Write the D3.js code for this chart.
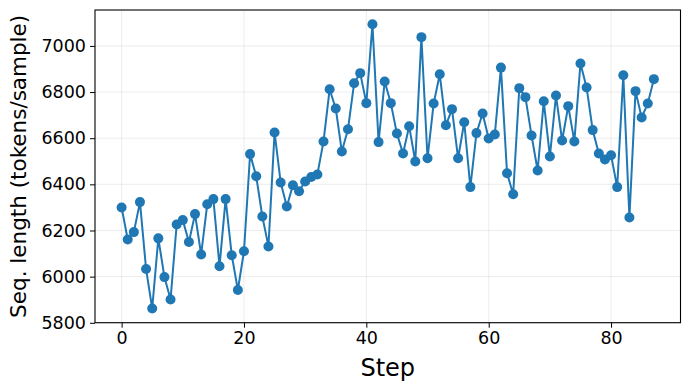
<!DOCTYPE html>
<html>
<head>
<meta charset="utf-8">
<script src="https://cdn.jsdelivr.net/npm/d3@7"></script>
<style>
  html, body { margin: 0; padding: 0; background: #fff; }
  svg { display: block; font-family: "DejaVu Sans", sans-serif; }
</style>
</head>
<body>
<svg id="chart" width="690" height="390"></svg>
<script>
// Sequence length per step (tokens/sample)
var seqLength = [
  6300, 6161, 6193, 6323, 6033, 5862, 6166, 5998, 5901, 6226,
  6245, 6150, 6271, 6096, 6314, 6336, 6045, 6336, 6093, 5942,
  6110, 6531, 6435, 6261, 6131, 6625, 6408, 6304, 6396, 6370,
  6412, 6432, 6443, 6586, 6812, 6729, 6542, 6639, 6838, 6882,
  6752, 7094, 6583, 6846, 6752, 6620, 6534, 6652, 6499, 7038,
  6513, 6750, 6877, 6656, 6726, 6513, 6669, 6388, 6622, 6707,
  6599, 6616, 6906, 6448, 6357, 6817, 6778, 6612, 6460, 6760,
  6521, 6785, 6590, 6739, 6586, 6924, 6820, 6635, 6534, 6508,
  6526, 6388, 6873, 6256, 6804, 6690, 6750, 6856
];
var steps = seqLength.map(function (d, i) { return i; });
var xTicks = [0, 20, 40, 60, 80];
var yTicks = [5800, 6000, 6200, 6400, 6600, 6800, 7000];

(function () {
  "use strict";

  var W = 690, H = 390;
  var m = { left: 95, right: 9.5, top: 10, bottom: 67.3 };
  var color = "#1f77b4";

  var svg = d3.select("#chart");
  var pts = steps.map(function (s, i) { return { x: s, y: seqLength[i] }; });

  // matplotlib-style 5% padding around the data
  var xExt = d3.extent(steps), yExt = d3.extent(seqLength);
  var xPad = (xExt[1] - xExt[0]) * 0.05, yPad = (yExt[1] - yExt[0]) * 0.05;

  var x = d3.scaleLinear()
    .domain([xExt[0] - xPad, xExt[1] + xPad])
    .range([m.left, W - m.right]);
  var y = d3.scaleLinear()
    .domain([yExt[0] - yPad, yExt[1] + yPad])
    .range([H - m.bottom, m.top]);

  // ── Grid ─────────────────────────────────────────────────────────────────
  var grid = svg.append("g").attr("stroke", "#b0b0b0").attr("stroke-opacity", 0.3).attr("stroke-width", 0.8);
  grid.selectAll("line.gx").data(xTicks).join("line")
    .attr("x1", x).attr("x2", x)
    .attr("y1", m.top).attr("y2", H - m.bottom);
  grid.selectAll("line.gy").data(yTicks).join("line")
    .attr("x1", m.left).attr("x2", W - m.right)
    .attr("y1", y).attr("y2", y);

  // ── Line + markers ───────────────────────────────────────────────────────
  var line = d3.line().x(function (d) { return x(d.x); }).y(function (d) { return y(d.y); });
  svg.append("path").datum(pts)
    .attr("fill", "none").attr("stroke", color)
    .attr("stroke-width", 2).attr("stroke-linejoin", "round")
    .attr("d", line);
  svg.append("g").selectAll("circle").data(pts).join("circle")
    .attr("cx", function (d) { return x(d.x); })
    .attr("cy", function (d) { return y(d.y); })
    .attr("r", 5).attr("fill", color);

  // ── Axes ─────────────────────────────────────────────────────────────────
  var xAxis = svg.append("g")
    .attr("transform", "translate(0," + (H - m.bottom) + ")")
    .call(d3.axisBottom(x).tickValues(xTicks).tickSize(5).tickPadding(4));
  var yAxis = svg.append("g")
    .attr("transform", "translate(" + m.left + ",0)")
    .call(d3.axisLeft(y).tickValues(yTicks).tickSize(5).tickPadding(4).tickFormat(d3.format("d")));

  [xAxis, yAxis].forEach(function (a) {
    a.select(".domain").remove();
    a.selectAll(".tick line").attr("stroke", "#000").attr("stroke-width", 1);
    a.selectAll(".tick text").attr("fill", "#000")
      .attr("font-size", "17.5px").attr("font-family", "DejaVu Sans, sans-serif");
  });

  // frame
  svg.append("rect")
    .attr("x", m.left).attr("y", m.top)
    .attr("width", W - m.left - m.right).attr("height", H - m.top - m.bottom)
    .attr("fill", "none").attr("stroke", "#000").attr("stroke-width", 1.1);

  // ── Labels ───────────────────────────────────────────────────────────────
  svg.append("text")
    .attr("x", (m.left + W - m.right) / 2).attr("y", 376)
    .attr("text-anchor", "middle").attr("font-size", "24px")
    .text("Step");
  svg.append("text")
    .attr("transform", "translate(26," + ((m.top + H - m.bottom) / 2) + ") rotate(-90)")
    .attr("text-anchor", "middle").attr("font-size", "21.5px")
    .text("Seq. length (tokens/sample)");
})();
</script>
</body>
</html>
